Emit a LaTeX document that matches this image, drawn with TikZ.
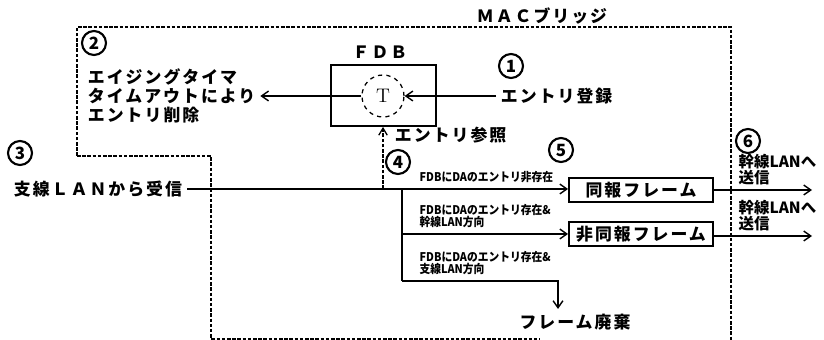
\documentclass[tikz,border=0pt]{standalone}
\usepackage{fontspec}
\usepackage{tikz}
\usetikzlibrary{arrows.meta}
\newfontfamily\jp{Noto Sans CJK JP}
\newfontfamily\jpwide{Noto Sans CJK JP}[LetterSpace=12]
\newfontfamily\jpnarrow{Noto Sans CJK JP}[FakeStretch=0.9]

\begin{document}
\begin{tikzpicture}[x=0.025cm, y=-0.025cm,
            font=\jpwide\bfseries\fontsize{12}{13.5}\selectfont,
            line/.style={line width=1pt},
            conn/.style={line width=1pt, -{Straight Barb[length=5pt,width=7pt]}},
            bridge/.style={line width=0.9pt, dash pattern=on 2.5pt off 1.2pt},
            box/.style={draw, line width=1.3pt, inner sep=0pt},
            num/.style={draw, circle, line width=1.5pt, inner sep=0pt, minimum size=0.6cm, font=\jp\bfseries\fontsize{12}{12}\selectfont},
            small/.style={align=left, inner sep=1pt, font=\jpnarrow\bfseries\fontsize{8.5}{8.5}\selectfont},
            trunk/.style={align=left, inner sep=1pt, font=\jp\bfseries\fontsize{11}{9}\selectfont}]
            \useasboundingbox (0,0) rectangle (824,340);
            % bridge frame
            \draw[bridge] (77,156) -- (77,27) -- (731,27) -- (731,340);
            \draw[bridge] (77,156) -- (211,156) -- (211,339) -- (540,339);
            \node (mac) at (542,16) {ＭＡＣブリッジ};
            % FDB with aging timer
            \node[box, minimum width=2.625cm, minimum height=1.525cm] (fdb) at (383.5,95.5) {};
            \node (fdbname) at (380,52) {ＦＤＢ};
            \node[draw, circle, dashed, line width=0.9pt, minimum size=1.05cm, inner sep=0pt,
                font=\rmfamily\fontsize{14}{14}\selectfont] (T) at (383,96) {T};
            \node[anchor=west] (reg) at (496,96) {エントリ登録};
            \node[anchor=west, align=left] (aging) at (83,96) {エイジングタイマ\\タイムアウトにより\\エントリ削除};
            \draw[conn] (reg) -- (T);
            \draw[conn] (T) -- (aging.east);
            % receive and branch
            \node[anchor=west] (recv) at (9,189) {支線ＬＡＮから受信};
            \node[box, minimum width=3.6cm, minimum height=0.6cm] (bcast) at (641,190) {同報フレーム};
            \node[box, minimum width=3.6cm, minimum height=0.6cm] (ucast) at (641,234) {非同報フレーム};
            \node (drop) at (575,322) {フレーム廃棄};
            \coordinate (look) at (383,189);
            \coordinate (split) at (402,189);
            \coordinate (last) at (402,281);
            \coordinate (bend) at (558,281);
            \draw[conn] (recv.east) -- (recv.east -| bcast.west);
            \draw[line] (split) -- (last);
            \draw[conn] (split |- ucast) -- (ucast);
            \draw[conn] (last) -- (bend) -- (bend |- drop.north);
            \draw[bridge, -{Straight Barb[length=5pt,width=6pt]}] (look) -- (look |- fdb.south);
            \node[anchor=west] (ref) at (390,135) {エントリ参照};
            \node[small, anchor=west] (c1) at (418,177) {FDBにDAのエントリ非存在};
            \node[small, anchor=west] (c2) at (418,216) {FDBにDAのエントリ存在\&\\幹線LAN方向};
            \node[small, anchor=west] (c3) at (418,263) {FDBにDAのエントリ存在\&\\支線LAN方向};
            % to the trunk LAN
            \coordinate (out1) at (812,190);
            \coordinate (out2) at (812,236);
            \draw[conn] (bcast.east |- out1) -- (out1);
            \draw[conn] (ucast.east |- out2) -- (out2);
            \node[trunk, anchor=west] (t1) at (737,170) {幹線LANへ\\送信};
            \node[trunk, anchor=west] (t2) at (737,216) {幹線LANへ\\送信};
            % step numbers
            \node[num] (n1) at (511,66) {1};
            \node[num] (n2) at (94,43) {2};
            \node[num] (n3) at (20,153) {3};
            \node[num] (n4) at (398,162) {4};
            \node[num] (n5) at (561,150) {5};
            \node[num] (n6) at (748,141) {6};
\end{tikzpicture}
\end{document}
